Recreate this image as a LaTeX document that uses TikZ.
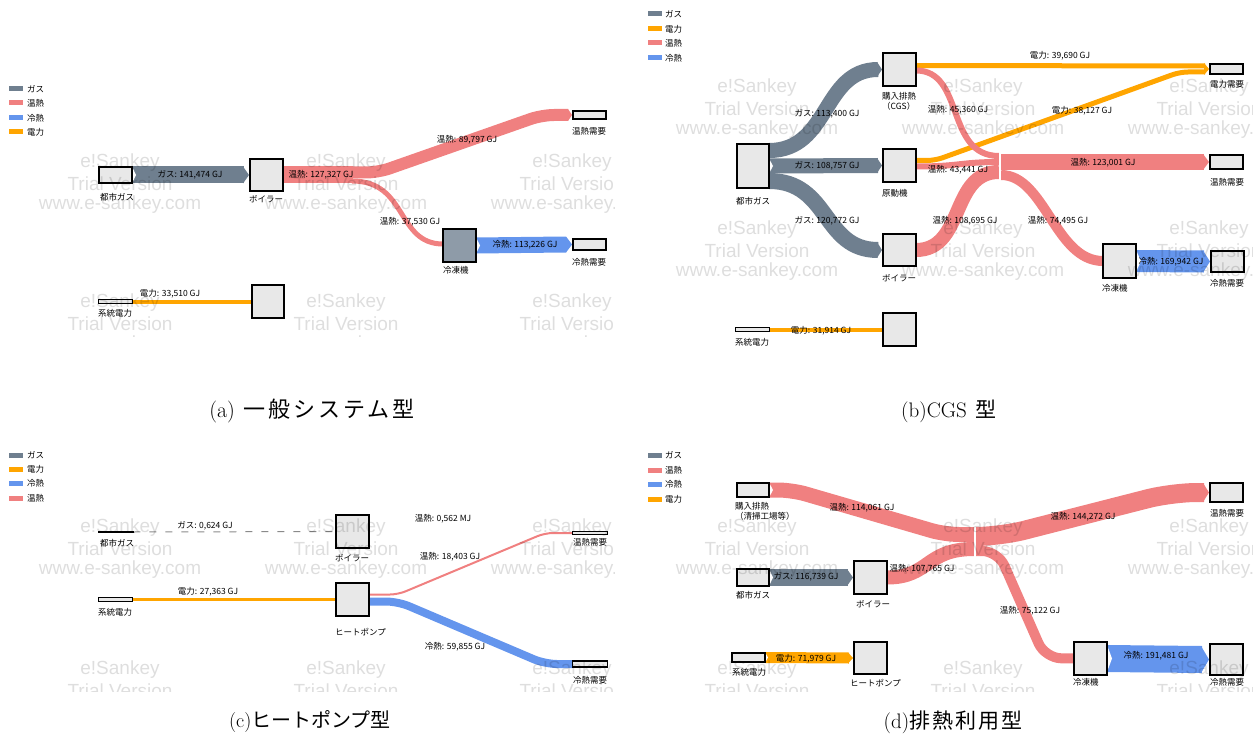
\documentclass[tikz,border=0pt]{standalone}
\usepackage{fontspec}
\newfontfamily\jp{Noto Sans CJK JP}
\newfontfamily\wmf{Liberation Sans}
\usetikzlibrary{calc}
\pgfdeclarelayer{bg}
\pgfsetlayers{bg,main}
\definecolor{gasc}{HTML}{6F7F8F}
\definecolor{heatc}{HTML}{F08080}
\definecolor{coldc}{HTML}{6495ED}
\definecolor{elec}{HTML}{FFA500}
\definecolor{boxc}{HTML}{E8E8E8}
\definecolor{chillc}{HTML}{8E9BA8}
\definecolor{dashc}{HTML}{8A8A8A}
% tip pointing right: colour, anchor, dx, dy, half width, length
\newcommand\tipR[6]{\fill[#1] ($(#2)+(#3,#4)+(-#6,-#5)$) -- ($(#2)+(#3,#4)$) -- ($(#2)+(#3,#4)+(-#6,#5)$) -- cycle;}
% notch at start of a band: anchor, dx, dy, half width, depth
\newcommand\notchR[5]{\fill[white] ($(#1)+(#2,#3)+(0,-#4)$) -- ($(#1)+(#2,#3)+(#5,0)$) -- ($(#1)+(#2,#3)+(0,#4)$) -- cycle;}
\newcommand\wmset[3]{%
  \node[wm] (#3a) at (#1,#2) {e!Sankey};
  \node[wm] (#3b) at (#1,#2+21) {Trial Version};
  \node[wm] (#3c) at (#1,#2+42) {www.e-sankey.com};}
\begin{document}
\begin{tikzpicture}[x=1pt,y=-1pt,
  box/.style 2 args={draw=black,line width=2pt,fill=boxc,inner sep=0pt,outer sep=0pt,minimum width=#1,minimum height=#2},
  tbox/.style 2 args={draw=black,line width=1.2pt,fill=boxc,inner sep=0pt,outer sep=0pt,minimum width=#1,minimum height=#2},
  lbl/.style={font=\jp\fontsize{8.5}{10}\selectfont,inner sep=0pt,text=black},
  nlab/.style={lbl,anchor=west,align=left},
  leg/.style={minimum width=14pt,minimum height=5pt,inner sep=0pt,outer sep=0pt},
  wm/.style={font=\wmf\fontsize{19}{19}\selectfont,text=black,text opacity=0.13,inner sep=0pt},
  captxt/.style={font=\fontsize{20}{22}\selectfont,inner sep=0pt}]
\useasboundingbox (0,0) rectangle (1258,738);

%% ================= Panel (a) =================
\node[leg,fill=gasc]  (aLg1) at (16,89) {};  \node[nlab] (aLt1) at (27,89) {ガス};
\node[leg,fill=heatc] (aLg2) at (16,103) {}; \node[nlab] (aLt2) at (27,103) {温熱};
\node[leg,fill=coldc] (aLg3) at (16,118) {}; \node[nlab] (aLt3) at (27,118) {冷熱};
\node[leg,fill=elec]  (aLg4) at (16,132) {}; \node[nlab] (aLt4) at (27,132) {電力};

\node[box={33pt}{16pt}] (aGas) at (115.5,175) {};
\node[box={33pt}{32pt}] (aBoil) at (266.5,175) {};
\node[box={33pt}{8pt}] (aHD) at (589.5,115) {};
\node[box={33pt}{33pt},fill=chillc] (aChill) at (459.5,245.5) {};
\node[box={33pt}{11pt}] (aCD) at (589.5,244.5) {};
\node[tbox={34pt}{4pt}] (aPow) at (115.5,301.5) {};
\node[box={32pt}{33pt}] (aEl) at (268,301.5) {};
\coordinate (aSplit) at (353,175);

\begin{pgfonlayer}{bg}
\draw[gasc,line width=17pt] (aGas.east) -- ($(aBoil.west)+(-6,0)$);
\tipR{gasc}{aBoil.west}{-1}{0}{8.5}{6}
\notchR{aGas.east}{0}{0}{8.5}{4}
\draw[heatc,line width=17pt] (aBoil.east) -- (aSplit);
\draw[heatc,line width=12pt,rounded corners=12pt] ($(aSplit)+(-1,-2.5)$) -- (378,172.5) -- (542,115) -- ($(aHD.west)+(-5,0)$);
\tipR{heatc}{aHD.west}{-1}{0}{6}{4}
\draw[heatc,line width=5pt] ($(aSplit)+(-1,6)$) .. controls (408,181) and (396,244) .. ($(aChill.west)+(0,-1.5)$);
\draw[coldc,line width=16pt] (aChill.east) -- ($(aCD.west)+(-7,0)$);
\tipR{coldc}{aCD.west}{-1}{0}{8}{6}
\notchR{aChill.east}{0}{0}{8}{4}
\draw[elec,line width=4pt] (aPow.east) -- (aEl.west);
\end{pgfonlayer}

\node[lbl] (aF1) at (190,175) {ガス: 141,474 GJ};
\node[lbl] (aF2) at (321,175) {温熱: 127,327 GJ};
\node[lbl] (aF3) at (467,140) {温熱: 89,797 GJ};
\node[lbl] (aF4) at (410,222) {温熱: 37,530 GJ};
\node[lbl] (aF5) at (525,245) {冷熱: 113,226 GJ};
\node[lbl] (aF6) at (170,294) {電力: 33,510 GJ};
\node[nlab] (aN1) at (100,197) {都市ガス};
\node[nlab] (aN2) at (249,199) {ボイラー};
\node[nlab] (aN3) at (443,270) {冷凍機};
\node[nlab] (aN4) at (572,131) {温熱需要};
\node[nlab] (aN5) at (572,262) {冷熱需要};
\node[nlab] (aN6) at (98,313) {系統電力};

\begin{scope}
\clip (0,75) rectangle (614,336);
\wmset{120}{163}{aW1}\wmset{346}{163}{aW2}\wmset{572}{163}{aW3}
\wmset{120}{303}{aW4}\wmset{346}{303}{aW5}\wmset{572}{303}{aW6}
\end{scope}

%% ================= Panel (b) =================
\node[leg,fill=gasc]  (bLg1) at (655,14) {}; \node[nlab] (bLt1) at (665,14) {ガス};
\node[leg,fill=elec]  (bLg2) at (655,29) {}; \node[nlab] (bLt2) at (665,29) {電力};
\node[leg,fill=heatc] (bLg3) at (655,43) {}; \node[nlab] (bLt3) at (665,43) {温熱};
\node[leg,fill=coldc] (bLg4) at (655,58) {}; \node[nlab] (bLt4) at (665,58) {冷熱};

\node[box={32pt}{44pt}] (bGas) at (753,166) {};
\node[box={33pt}{33pt}] (bCGS) at (899.5,69.5) {};
\node[box={33pt}{33pt}] (bEng) at (899.5,165.5) {};
\node[box={33pt}{32pt}] (bBoil) at (899.5,250) {};
\node[box={33pt}{10pt}] (bED) at (1226.5,69) {};
\node[box={33pt}{14pt}] (bHD) at (1226.5,162) {};
\node[box={33pt}{34pt}] (bChill) at (1119.5,261) {};
\node[box={33pt}{21pt}] (bCD) at (1227.5,261.5) {};
\node[tbox={34pt}{4pt}] (bPow) at (752.5,329.5) {};
\node[box={33pt}{33pt}] (bEl) at (899.5,329.5) {};
\coordinate (bJ) at (1000,166);

\begin{pgfonlayer}{bg}
\draw[gasc,line width=15pt] ($(bGas.east)+(0,-15.5)$) .. controls (830,150.5) and (822,69.5) .. ($(bCGS.west)+(-5,0)$);
\tipR{gasc}{bCGS.west}{-1}{0}{7.5}{5}
\draw[gasc,line width=15pt] (bGas.east) -- ($(bEng.west)+(-5,0)$);
\tipR{gasc}{bEng.west}{-1}{0}{7.5}{5}
\notchR{bGas.east}{0}{0}{7.5}{4}
\draw[gasc,line width=16pt] ($(bGas.east)+(0,15)$) .. controls (830,181) and (822,250) .. ($(bBoil.west)+(-5,0)$);
\tipR{gasc}{bBoil.west}{-1}{0}{8}{5}
% electricity
\draw[elec,line width=5pt] ($(bCGS.east)+(0,-4)$) -- ($(bED.west)+(-5,-3)$);
\draw[elec,line width=5pt,rounded corners=8pt] ($(bEng.east)+(0,-5)$) -- (935,160.5) -- (1180,72) -- ($(bED.west)+(-5,3)$);
\tipR{elec}{bED.west}{-1}{0}{6}{5}
% heat into junction
\draw[heatc,line width=6pt] ($(bCGS.east)+(0,1)$) .. controls (965,70.5) and (945,156) .. ($(bJ)+(-1,-10)$);
\draw[heatc,line width=6pt] ($(bEng.east)+(0,1)$) .. controls (960,166.5) and (960,162) .. ($(bJ)+(-1,-4)$);
\draw[heatc,line width=14pt] (bBoil.east) .. controls (965,250) and (950,172) .. ($(bJ)+(-1,6)$);
% heat out of junction
\draw[heatc,line width=16pt] ($(bJ)+(1,-4)$) -- ($(bHD.west)+(-6,0)$);
\tipR{heatc}{bHD.west}{-1}{0}{8}{6}
\draw[heatc,line width=10pt] ($(bJ)+(1,9)$) .. controls (1045,175) and (1055,261) .. (bChill.west);
\draw[white,line width=1.2pt] ($(bJ)+(0,-13.5)$) -- ($(bJ)+(0,14)$);
\draw[coldc,line width=22pt] (bChill.east) -- ($(bCD.west)+(-7,0)$);
\tipR{coldc}{bCD.west}{-1}{0}{11}{7}
\notchR{bChill.east}{0}{0}{11}{5}
\draw[elec,line width=4pt] (bPow.east) -- (bEl.west);
\end{pgfonlayer}

\node[lbl] (bF1) at (827,114) {ガス: 113,400 GJ};
\node[lbl] (bF2) at (827,166) {ガス: 108,757 GJ};
\node[lbl] (bF3) at (827,221) {ガス: 120,772 GJ};
\node[lbl] (bF4) at (1060,56) {電力: 39,690 GJ};
\node[lbl] (bF5) at (1082,111) {電力: 38,127 GJ};
\node[lbl] (bF6) at (958,110) {温熱: 45,360 GJ};
\node[lbl] (bF7) at (958,170) {温熱: 43,441 GJ};
\node[lbl] (bF8) at (965,221) {温熱: 108,695 GJ};
\node[lbl] (bF9) at (1103,163) {温熱: 123,001 GJ};
\node[lbl] (bF10) at (1058,221) {温熱: 74,495 GJ};
\node[lbl] (bF11) at (1171,262) {冷熱: 169,942 GJ};
\node[lbl] (bF12) at (821,331) {電力: 31,914 GJ};
\node[nlab] (bN1) at (736,201) {都市ガス};
\node[lbl,anchor=north west,align=left] (bN2) at (882,92) {購入排熱\\（CGS）};
\node[nlab] (bN3) at (882,193) {原動機};
\node[nlab] (bN4) at (882,278) {ボイラー};
\node[nlab] (bN5) at (1210,84) {電力需要};
\node[nlab] (bN6) at (1210,182) {温熱需要};
\node[nlab] (bN7) at (1102,288) {冷凍機};
\node[nlab] (bN8) at (1210,283) {冷熱需要};
\node[nlab] (bN9) at (735,342) {系統電力};

\begin{scope}
\clip (640,0) rectangle (1252,356);
\wmset{757}{88}{bW1}\wmset{983}{88}{bW2}\wmset{1209}{88}{bW3}
\wmset{757}{230}{bW4}\wmset{983}{230}{bW5}\wmset{1209}{230}{bW6}
\end{scope}

%% ================= Panel (c) =================
\node[leg,fill=gasc]  (cLg1) at (16,455) {}; \node[nlab] (cLt1) at (27,455) {ガス};
\node[leg,fill=elec]  (cLg2) at (16,469) {}; \node[nlab] (cLt2) at (27,469) {電力};
\node[leg,fill=coldc] (cLg3) at (16,483) {}; \node[nlab] (cLt3) at (27,483) {冷熱};
\node[leg,fill=heatc] (cLg4) at (16,498) {}; \node[nlab] (cLt4) at (27,498) {温熱};

\node[draw=black,fill=black,line width=0.6pt,inner sep=0pt,minimum width=35pt,minimum height=1pt] (cGas) at (115.5,532) {};
\node[box={33pt}{33pt}] (cBoil) at (352.5,531.5) {};
\node[tbox={34pt}{4pt}] (cPow) at (115.5,599.5) {};
\node[box={33pt}{33pt}] (cHP) at (352.5,599.5) {};
\node[tbox={35pt}{2.5pt}] (cHD) at (590,533) {};
\node[tbox={35pt}{6pt}] (cCD) at (590,664) {};

\begin{pgfonlayer}{bg}
\draw[dashc,line width=1pt,dash pattern=on 7pt off 9pt] (cGas.east) -- (cBoil.west);
\draw[elec,line width=3pt] (cPow.east) -- (cHP.west);
\draw[heatc,line width=2pt,rounded corners=8pt] ($(cHP.east)+(0,-5)$) -- (398,594.5) -- (545,533) -- (cHD.west);
\draw[coldc,line width=8pt,rounded corners=12pt] ($(cHP.east)+(0,2)$) -- (398,601.5) -- (545,664) -- (cCD.west);
\end{pgfonlayer}

\node[lbl] (cF1) at (205,526) {ガス: 0,624 GJ};
\node[lbl] (cF2) at (208,592) {電力: 27,363 GJ};
\node[lbl] (cF3) at (443,519) {温熱: 0,562 MJ};
\node[lbl] (cF4) at (450,557) {温熱: 18,403 GJ};
\node[lbl] (cF5) at (455,647) {冷熱: 59,855 GJ};
\node[nlab] (cN1) at (100,543) {都市ガス};
\node[nlab] (cN2) at (335,558) {ボイラー};
\node[nlab] (cN3) at (98,612) {系統電力};
\node[nlab] (cN4) at (335,632) {ヒートポンプ};
\node[nlab] (cN5) at (573,542) {温熱需要};
\node[nlab] (cN6) at (573,680) {冷熱需要};

\begin{scope}
\clip (0,440) rectangle (614,691);
\wmset{120}{528}{cW1}\wmset{346}{528}{cW2}\wmset{572}{528}{cW3}
\wmset{120}{670}{cW4}\wmset{346}{670}{cW5}\wmset{572}{670}{cW6}
\end{scope}

%% ================= Panel (d) =================
\node[leg,fill=gasc]  (dLg1) at (655,455) {}; \node[nlab] (dLt1) at (665,455) {ガス};
\node[leg,fill=heatc] (dLg2) at (655,470) {}; \node[nlab] (dLt2) at (665,470) {温熱};
\node[leg,fill=coldc] (dLg3) at (655,484) {}; \node[nlab] (dLt3) at (665,484) {冷熱};
\node[leg,fill=elec]  (dLg4) at (655,499) {}; \node[nlab] (dLt4) at (665,499) {電力};

\node[box={32pt}{14pt}] (dPur) at (753,490) {};
\node[box={32pt}{17pt}] (dGas) at (753,577.5) {};
\node[box={33pt}{33pt}] (dBoil) at (870.5,577.5) {};
\node[box={33pt}{9pt}] (dPow) at (748.5,657.5) {};
\node[box={33pt}{32pt}] (dHP) at (870.5,658) {};
\node[box={33pt}{19pt}] (dHD) at (1226.5,492.5) {};
\node[box={33pt}{33pt}] (dChill) at (1090.5,658.5) {};
\node[box={33pt}{31pt}] (dCD) at (1226.5,659.5) {};
\coordinate (dJ) at (975,542);

\begin{pgfonlayer}{bg}
\draw[heatc,line width=15pt,rounded corners=14pt] (dPur.east) -- (792,490) -- (945,534.5) -- ($(dJ)+(-1,-7.5)$);
\notchR{dPur.east}{0}{0}{7.5}{4}
\draw[heatc,line width=14pt] (dBoil.east) .. controls (930,577.5) and (925,549) .. ($(dJ)+(-1,7)$);
\draw[heatc,line width=19pt,rounded corners=25pt] ($(dJ)+(1,-5.5)$) -- (1000,536.5) -- (1172,492.5) -- ($(dHD.west)+(-6,0)$);
\tipR{heatc}{dHD.west}{-1}{0}{9.5}{6}
\draw[heatc,line width=10pt,rounded corners=16pt] ($(dJ)+(1,9)$) -- (998,551) -- (1045,658) -- (dChill.west);
\draw[white,line width=1.2pt] ($(dJ)+(0,-15)$) -- ($(dJ)+(0,15)$);
\draw[gasc,line width=17pt] (dGas.east) -- ($(dBoil.west)+(-6,0)$);
\tipR{gasc}{dBoil.west}{-1}{0}{8.5}{6}
\notchR{dGas.east}{0}{0}{8.5}{4}
\draw[coldc,line width=27pt] (dChill.east) -- ($(dCD.west)+(-8,0)$);
\tipR{coldc}{dCD.west}{-1}{0}{13.5}{8}
\notchR{dChill.east}{0}{0}{13.5}{5}
\draw[elec,line width=11pt] (dPow.east) -- ($(dHP.west)+(-5,0)$);
\tipR{elec}{dHP.west}{-1}{0}{5.5}{5}
\notchR{dPow.east}{0}{0}{5.5}{3}
\end{pgfonlayer}

\node[lbl] (dF1) at (862,508) {温熱: 114,061 GJ};
\node[lbl] (dF2) at (806,577) {ガス: 116,739 GJ};
\node[lbl] (dF3) at (922,569) {温熱: 107,765 GJ};
\node[lbl] (dF4) at (1083,517) {温熱: 144,272 GJ};
\node[lbl] (dF5) at (1030,611) {温熱: 75,122 GJ};
\node[lbl] (dF6) at (1156,656) {冷熱: 191,481 GJ};
\node[lbl] (dF7) at (806,659) {電力: 71,979 GJ};
\node[lbl,anchor=north west,align=left] (dN1) at (735,502) {購入排熱\\（清掃工場等）};
\node[nlab] (dN2) at (736,595) {都市ガス};
\node[nlab] (dN3) at (856,604) {ボイラー};
\node[nlab] (dN4) at (1210,513) {温熱需要};
\node[nlab] (dN7) at (732,672) {系統電力};
\node[nlab] (dN8) at (850,683) {ヒートポンプ};
\begin{scope}
\clip (640,440) rectangle (1252,688);
\node[nlab] (dN5) at (1073,682) {冷凍機};
\node[nlab] (dN6) at (1210,682) {冷熱需要};
\end{scope}

\begin{scope}
\clip (640,440) rectangle (1252,691);
\wmset{757}{528}{dW1}\wmset{983}{528}{dW2}\wmset{1209}{528}{dW3}
\wmset{757}{670}{dW4}\wmset{983}{670}{dW5}\wmset{1209}{670}{dW6}
\end{scope}

%% ================= Captions =================
\node[captxt,font=\fontsize{22}{24}\selectfont] (capA) at (312,411) {(a)\hspace{9pt}{\jp 一\hspace{2.8pt}般\hspace{2.8pt}シ\hspace{2.8pt}ス\hspace{2.8pt}テ\hspace{2.8pt}ム\hspace{2.8pt}型}};
\node[captxt,font=\fontsize{21}{23}\selectfont] (capB) at (949,411) {(b)CGS\hspace{9pt}{\jp 型}};
\node[captxt] (capC) at (310,722) {(c){\jp ヒートポンプ型}};
\node[captxt,font=\fontsize{21}{23}\selectfont] (capD) at (953,722) {(d){\jp 排\hspace{2pt}熱\hspace{2pt}利\hspace{2pt}用\hspace{2pt}型}};
\end{tikzpicture}
\end{document}
